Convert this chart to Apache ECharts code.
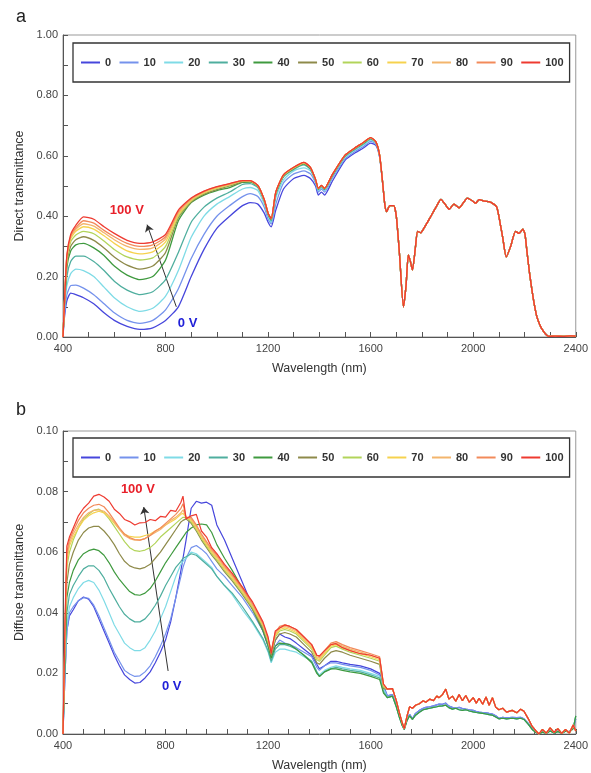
<!DOCTYPE html>
<html>
<head>
<meta charset="utf-8">
<script src="https://cdn.jsdelivr.net/npm/echarts@6/dist/echarts.min.js"></script>
<style>
html,body{margin:0;padding:0;background:#fff;}
#c{width:591px;height:773px;}
</style>
</head>
<body>
<div id="c"></div>
<script>
// ---------- Data ----------
const VOLTS = ['0','10','20','30','40','50','60','70','80','90','100'];

// Panel a: direct transmittance
const A_WL_HEAD = [400,405,415,430,450,480,520,560,600,650,700,750,800,850,900,950,1000,1050,1100,1130,1160,1185,1200,1212,1230,1260,1300,1340,1365,1385,1396,1408,1420,1450,1500,1540,1570,1600,1620,1635,1648];
const A_0   = [0,0.06,0.12,0.145,0.14,0.13,0.11,0.08,0.055,0.035,0.025,0.03,0.055,0.10,0.20,0.29,0.36,0.40,0.435,0.445,0.44,0.41,0.38,0.365,0.42,0.49,0.525,0.535,0.525,0.50,0.47,0.48,0.47,0.515,0.585,0.61,0.625,0.642,0.635,0.595,0.50];
const A_10  = [0,0.07,0.14,0.17,0.172,0.162,0.14,0.11,0.08,0.055,0.045,0.055,0.09,0.16,0.26,0.34,0.40,0.435,0.465,0.475,0.465,0.43,0.39,0.375,0.44,0.51,0.54,0.55,0.54,0.51,0.48,0.49,0.48,0.525,0.59,0.615,0.63,0.648,0.64,0.598,0.50];
const A_20  = [0,0.08,0.17,0.21,0.225,0.22,0.20,0.165,0.13,0.10,0.085,0.095,0.135,0.22,0.33,0.40,0.44,0.465,0.49,0.495,0.485,0.44,0.40,0.38,0.46,0.52,0.55,0.56,0.55,0.515,0.485,0.495,0.485,0.53,0.595,0.62,0.635,0.652,0.642,0.60,0.50];
const A_30  = [0,0.09,0.20,0.25,0.268,0.268,0.25,0.22,0.185,0.155,0.14,0.15,0.19,0.28,0.38,0.43,0.46,0.48,0.505,0.508,0.495,0.45,0.405,0.385,0.47,0.53,0.555,0.57,0.555,0.518,0.488,0.498,0.488,0.532,0.598,0.622,0.638,0.655,0.644,0.60,0.50];
const A_40  = [0,0.10,0.23,0.285,0.305,0.31,0.295,0.27,0.235,0.205,0.19,0.20,0.255,0.385,0.445,0.47,0.485,0.495,0.512,0.513,0.50,0.452,0.408,0.389,0.475,0.533,0.558,0.573,0.558,0.52,0.49,0.50,0.49,0.535,0.60,0.625,0.641,0.658,0.646,0.601,0.50];
const A_50  = [0,0.10,0.24,0.30,0.322,0.332,0.32,0.295,0.265,0.238,0.225,0.235,0.28,0.395,0.447,0.473,0.488,0.50,0.514,0.515,0.50,0.453,0.409,0.39,0.477,0.534,0.559,0.575,0.56,0.521,0.491,0.501,0.491,0.536,0.601,0.626,0.642,0.659,0.646,0.601,0.50];
const A_60  = [0,0.10,0.25,0.315,0.338,0.35,0.342,0.318,0.29,0.265,0.255,0.262,0.30,0.40,0.45,0.476,0.492,0.503,0.516,0.516,0.501,0.454,0.41,0.391,0.478,0.535,0.56,0.576,0.561,0.521,0.491,0.501,0.491,0.536,0.601,0.626,0.642,0.659,0.646,0.601,0.50];
const A_70  = [0,0.10,0.26,0.325,0.35,0.365,0.357,0.335,0.31,0.285,0.275,0.282,0.315,0.405,0.453,0.478,0.494,0.505,0.517,0.517,0.501,0.454,0.41,0.391,0.479,0.536,0.561,0.577,0.561,0.522,0.492,0.502,0.492,0.537,0.602,0.627,0.643,0.66,0.647,0.602,0.50];
const A_80  = [0,0.10,0.265,0.33,0.357,0.375,0.367,0.345,0.322,0.30,0.29,0.295,0.325,0.41,0.455,0.48,0.496,0.506,0.518,0.518,0.502,0.455,0.41,0.392,0.48,0.537,0.562,0.578,0.562,0.522,0.492,0.502,0.492,0.537,0.602,0.627,0.643,0.66,0.647,0.602,0.50];
const A_90  = [0,0.10,0.268,0.335,0.362,0.385,0.377,0.353,0.332,0.31,0.30,0.305,0.332,0.415,0.458,0.482,0.497,0.507,0.518,0.518,0.502,0.455,0.41,0.392,0.48,0.537,0.562,0.578,0.562,0.522,0.492,0.502,0.492,0.537,0.602,0.627,0.643,0.66,0.647,0.602,0.50];
const A_100 = [0,0.10,0.27,0.34,0.37,0.398,0.39,0.365,0.343,0.32,0.31,0.315,0.34,0.42,0.46,0.483,0.498,0.508,0.518,0.518,0.502,0.455,0.41,0.392,0.48,0.537,0.562,0.578,0.562,0.522,0.492,0.502,0.492,0.537,0.602,0.627,0.643,0.66,0.647,0.602,0.50];
// beyond 1650 nm all voltages coincide
const A_WL_TAIL = [1655,1662,1675,1690,1700,1712,1728,1738,1747,1755,1763,1775,1783,1795,1809,1835,1855,1874,1890,1906,1925,1945,1962,1977,1995,2009,2023,2045,2062,2080,2092,2100,2115,2129,2146,2165,2178,2194,2202,2210,2220,2230,2240,2249,2260,2269,2282,2295,2320,2350,2380,2400];
const A_TAIL = [0.44,0.415,0.435,0.435,0.40,0.28,0.10,0.17,0.272,0.25,0.222,0.30,0.35,0.345,0.362,0.40,0.43,0.456,0.44,0.423,0.44,0.428,0.445,0.46,0.452,0.443,0.455,0.45,0.448,0.44,0.43,0.40,0.33,0.265,0.30,0.35,0.343,0.357,0.34,0.28,0.21,0.15,0.10,0.065,0.04,0.025,0.01,0.002,0.003,0.002,0.004,0.003];

// Panel b: diffuse transmittance
const B_WL_HEAD = [400,408,415,425,440,460,480,500,520,540,560,580,600,620,640,660,680,700,720,740,760,780,800,820,840,860,868,880,900,920,940,960,980,1000,1030,1060,1100,1140,1180,1200,1212,1228,1245,1265,1285,1310,1340,1370,1390,1400,1420,1445,1465,1490,1520,1560,1600,1635,1650];
const B_0   = [0,0.02,0.034,0.039,0.041,0.044,0.0452,0.0445,0.042,0.038,0.034,0.030,0.026,0.0225,0.0195,0.018,0.0168,0.017,0.0185,0.0205,0.0235,0.027,0.031,0.037,0.045,0.054,0.058,0.064,0.0745,0.0768,0.0762,0.0765,0.0755,0.069,0.064,0.058,0.050,0.042,0.034,0.029,0.026,0.031,0.033,0.032,0.0315,0.030,0.028,0.026,0.023,0.0215,0.0225,0.024,0.024,0.0235,0.023,0.0225,0.0215,0.020,0.016];
const B_10  = [0,0.02,0.034,0.04,0.042,0.044,0.045,0.0448,0.0425,0.039,0.035,0.031,0.027,0.024,0.021,0.0198,0.019,0.0192,0.0205,0.0225,0.0255,0.029,0.033,0.038,0.045,0.052,0.055,0.058,0.0615,0.0622,0.061,0.0595,0.057,0.0545,0.052,0.049,0.045,0.040,0.034,0.029,0.025,0.029,0.031,0.030,0.0295,0.0285,0.027,0.0255,0.022,0.021,0.0225,0.0235,0.0235,0.023,0.0225,0.022,0.021,0.0195,0.0155];
const B_20  = [0,0.022,0.036,0.042,0.045,0.048,0.050,0.0507,0.050,0.0475,0.044,0.040,0.036,0.033,0.030,0.0285,0.0275,0.0275,0.0285,0.031,0.034,0.038,0.042,0.047,0.052,0.056,0.057,0.058,0.060,0.0595,0.058,0.0565,0.055,0.052,0.049,0.046,0.041,0.0365,0.031,0.027,0.0235,0.027,0.028,0.028,0.0275,0.027,0.0255,0.024,0.0205,0.0195,0.021,0.022,0.0225,0.022,0.0215,0.021,0.020,0.019,0.015];
const B_30  = [0,0.024,0.04,0.046,0.049,0.052,0.0545,0.0555,0.0555,0.054,0.0515,0.048,0.045,0.042,0.0395,0.038,0.037,0.037,0.038,0.040,0.0425,0.0455,0.049,0.052,0.055,0.057,0.058,0.0585,0.0595,0.059,0.0575,0.056,0.0545,0.052,0.049,0.0465,0.042,0.037,0.0315,0.0275,0.024,0.028,0.0295,0.0295,0.029,0.028,0.026,0.024,0.0205,0.019,0.0205,0.0215,0.022,0.0215,0.021,0.0205,0.0195,0.0185,0.014];
const B_40  = [0,0.026,0.045,0.05,0.054,0.0575,0.0595,0.0605,0.061,0.0605,0.059,0.0565,0.0535,0.051,0.049,0.047,0.046,0.0458,0.0465,0.048,0.0505,0.0535,0.0565,0.059,0.0615,0.064,0.065,0.0665,0.068,0.069,0.0693,0.069,0.0665,0.0625,0.058,0.054,0.048,0.041,0.034,0.029,0.025,0.029,0.030,0.0298,0.0295,0.028,0.026,0.0235,0.020,0.019,0.0205,0.0215,0.0215,0.021,0.0205,0.020,0.019,0.018,0.0135];
const B_50  = [0,0.03,0.05,0.056,0.06,0.064,0.0665,0.068,0.0685,0.0685,0.067,0.065,0.0625,0.0595,0.057,0.0555,0.0548,0.0545,0.055,0.056,0.058,0.060,0.0625,0.065,0.0675,0.070,0.0705,0.071,0.0695,0.067,0.064,0.0615,0.059,0.057,0.0535,0.0505,0.046,0.041,0.035,0.030,0.026,0.031,0.033,0.0335,0.033,0.032,0.0295,0.027,0.0235,0.023,0.025,0.027,0.0275,0.027,0.026,0.025,0.024,0.023,0.015];
const B_60  = [0,0.032,0.055,0.06,0.064,0.068,0.071,0.0725,0.0738,0.0742,0.073,0.071,0.0685,0.066,0.0635,0.0615,0.0605,0.0603,0.0607,0.0615,0.063,0.065,0.0665,0.068,0.0695,0.071,0.0715,0.0715,0.070,0.0675,0.0645,0.062,0.0595,0.0575,0.054,0.051,0.0465,0.0415,0.0355,0.0305,0.0265,0.032,0.034,0.0345,0.034,0.033,0.0305,0.028,0.0245,0.024,0.026,0.0285,0.029,0.028,0.027,0.026,0.025,0.024,0.0155];
const B_70  = [0,0.034,0.057,0.062,0.065,0.068,0.0705,0.072,0.073,0.0735,0.073,0.0715,0.0695,0.0675,0.066,0.0652,0.065,0.065,0.0655,0.066,0.067,0.068,0.069,0.070,0.071,0.0725,0.0728,0.0715,0.0705,0.068,0.065,0.0625,0.060,0.058,0.0545,0.0515,0.047,0.042,0.036,0.031,0.027,0.0325,0.0345,0.035,0.0345,0.0335,0.031,0.0285,0.025,0.0245,0.0265,0.029,0.0295,0.0285,0.0275,0.0265,0.0255,0.0245,0.016];
const B_80  = [0,0.035,0.058,0.063,0.066,0.069,0.0715,0.073,0.0738,0.074,0.0735,0.072,0.070,0.0675,0.0655,0.0645,0.064,0.064,0.0645,0.0655,0.0665,0.0675,0.069,0.0705,0.0715,0.073,0.074,0.0715,0.071,0.0685,0.0655,0.063,0.0605,0.0585,0.055,0.052,0.0475,0.0425,0.0362,0.0312,0.0272,0.033,0.035,0.0355,0.035,0.034,0.0315,0.029,0.0255,0.025,0.027,0.0295,0.030,0.029,0.028,0.027,0.026,0.025,0.0162];
const B_90  = [0,0.036,0.06,0.064,0.067,0.0705,0.073,0.0745,0.0755,0.0758,0.075,0.073,0.0705,0.068,0.066,0.0648,0.0642,0.064,0.0645,0.0655,0.067,0.068,0.0695,0.071,0.0725,0.0745,0.076,0.0715,0.0715,0.069,0.066,0.0635,0.061,0.059,0.0555,0.0525,0.048,0.043,0.0365,0.0315,0.0275,0.0335,0.0355,0.036,0.0355,0.0345,0.032,0.0295,0.026,0.0255,0.0275,0.030,0.0305,0.0295,0.0285,0.0275,0.0265,0.0255,0.0165];
const B_100 = [0,0.038,0.062,0.065,0.068,0.072,0.0745,0.0762,0.0785,0.0791,0.0782,0.0768,0.0742,0.0728,0.0708,0.0701,0.0690,0.0697,0.0698,0.0708,0.0704,0.0718,0.0716,0.0738,0.0735,0.0765,0.0785,0.071,0.072,0.0725,0.067,0.065,0.0615,0.0595,0.056,0.053,0.0485,0.0435,0.037,0.032,0.0265,0.034,0.035,0.036,0.0355,0.0345,0.032,0.0295,0.026,0.0258,0.0275,0.0295,0.0298,0.0285,0.0275,0.0265,0.026,0.025,0.0165];
// beyond 1650 nm: three groups of nearly coinciding curves
const B_WL_TAIL = [1665,1685,1700,1712,1722,1731,1742,1752,1763,1775,1790,1805,1815,1830,1845,1858,1867,1880,1893,1905,1919,1932,1945,1958,1971,1985,2000,2012,2023,2037,2050,2062,2075,2088,2100,2115,2130,2152,2170,2185,2198,2215,2230,2245,2256,2270,2285,2300,2315,2330,2345,2360,2375,2390,2400];
const B_TAIL_HI  = [0.0148,0.015,0.011,0.007,0.004,0.0018,0.006,0.009,0.0085,0.0095,0.010,0.011,0.0105,0.0115,0.011,0.0125,0.012,0.013,0.0148,0.0115,0.0125,0.0108,0.013,0.011,0.0127,0.0105,0.012,0.0102,0.0118,0.0098,0.0122,0.0095,0.012,0.0088,0.008,0.0085,0.0072,0.0078,0.007,0.0082,0.0075,0.005,0.0025,0.001,0.0,0.0015,0.0003,0.002,0.0005,0.0018,0.0002,0.0015,0.0003,0.003,0.001];
const B_TAIL_MID = [0.0126,0.013,0.0095,0.006,0.0035,0.0018,0.005,0.0065,0.005,0.0068,0.0078,0.0085,0.0088,0.009,0.0093,0.0096,0.0099,0.0098,0.0102,0.0092,0.0088,0.0085,0.0088,0.0084,0.0082,0.008,0.0078,0.0074,0.0072,0.0071,0.007,0.0068,0.0066,0.006,0.0052,0.0055,0.0053,0.0055,0.0054,0.0055,0.005,0.0035,0.0018,0.0006,0.0,0.0008,0.0003,0.0012,0.0004,0.001,0.0003,0.001,0.0008,0.002,0.005];
const B_TAIL_LO  = [0.012,0.0125,0.009,0.0055,0.003,0.0015,0.0045,0.006,0.0048,0.0062,0.0072,0.008,0.0082,0.0085,0.0088,0.009,0.0092,0.0093,0.0095,0.0087,0.0082,0.0085,0.008,0.0078,0.008,0.0076,0.0073,0.0071,0.0070,0.0068,0.0066,0.0064,0.0062,0.0056,0.005,0.0052,0.005,0.0052,0.005,0.0052,0.0048,0.0032,0.0015,0.0005,0.0,0.0006,0.0002,0.001,0.0003,0.0008,0.0002,0.0009,0.0006,0.0018,0.006];

const A_SERIES = [A_0,A_10,A_20,A_30,A_40,A_50,A_60,A_70,A_80,A_90,A_100];
const B_SERIES = [B_0,B_10,B_20,B_30,B_40,B_50,B_60,B_70,B_80,B_90,B_100];
const B_TAILS  = [B_TAIL_MID,B_TAIL_MID,B_TAIL_LO,B_TAIL_LO,B_TAIL_LO,B_TAIL_HI,B_TAIL_HI,B_TAIL_HI,B_TAIL_HI,B_TAIL_HI,B_TAIL_HI];

// ---------- Styles ----------
const COLORS = ['#4646dc','#7592ec','#7fdbe6','#4fae9e','#3f9a3f','#8e8a4a','#b2d45a','#f6d24e','#f3b56c','#f28a5a','#ee3a30'];
const FONT = 'Liberation Sans, Arial, sans-serif';

function pairs(wl, vals){ return wl.map((w,i)=>[w, vals[i]]); }

const chart = echarts.init(document.getElementById('c'), null, {renderer:'canvas'});

function xAxisCfg(gi, minorSplit){
  return {
    type:'value', gridIndex:gi, min:400, max:2400, interval:400,
    name:'Wavelength (nm)', nameLocation:'middle', nameGap:25,
    nameTextStyle:{fontFamily:FONT, fontSize:12.5, color:'#333'},
    axisLine:{show:true, onZero:false, lineStyle:{color:'#555', width:1}},
    axisTick:{show:true, inside:true, length:5, lineStyle:{color:'#555'}},
    minorTick:{show:true, splitNumber:minorSplit, length:5, lineStyle:{color:'#555'}},
    splitLine:{show:false},
    axisLabel:{fontFamily:FONT, fontSize:11, color:'#444', margin:6, formatter:(v)=>String(v)}
  };
}
function yAxisCfg(gi, max, interval, name){
  return {
    type:'value', gridIndex:gi, min:0, max:max, interval:interval,
    name:name, nameLocation:'middle', nameGap:34, nameRotate:90,
    nameTextStyle:{fontFamily:FONT, fontSize:12.5, color:'#333'},
    axisLine:{show:true, onZero:false, lineStyle:{color:'#555', width:1}},
    axisTick:{show:true, inside:true, length:5, lineStyle:{color:'#555'}},
    minorTick:{show:true, splitNumber:2, length:5, lineStyle:{color:'#555'}},
    splitLine:{show:false},
    axisLabel:{fontFamily:FONT, fontSize:11, color:'#444', margin:5, formatter:(v)=>v.toFixed(2)}
  };
}
function legendCfg(top){
  return {
    data:VOLTS, left:73, top:top, orient:'horizontal',
    padding:[14,6,14,8], itemGap:8.4, itemWidth:19, itemHeight:2, icon:'rect',
    borderColor:'#333', borderWidth:1.3, borderRadius:0,
    textStyle:{fontFamily:FONT, fontSize:11, fontWeight:'bold', color:'#333'}
  };
}

const series = [];
VOLTS.forEach((v,i)=>{
  const s = {
    name:v, type:'line', xAxisIndex:0, yAxisIndex:0,
    data: pairs(A_WL_HEAD, A_SERIES[i]).concat(pairs(A_WL_TAIL, A_TAIL)),
    showSymbol:false, smooth:0.2, lineStyle:{color:COLORS[i], width:1.3},
    itemStyle:{color:COLORS[i]}, z:2+i
  };
  if(i===10){
    s.markLine = {silent:true, symbol:['none','arrow'], symbolSize:7,
      lineStyle:{color:'#333', width:1, type:'solid'}, label:{show:false},
      data:[[{coord:[842,0.10]},{coord:[728,0.372]}]]};
    s.markPoint = {silent:true, symbol:'rect', symbolSize:1, itemStyle:{color:'rgba(0,0,0,0)'},
      data:[
        {coord:[649,0.418], label:{show:true, position:'inside', formatter:'100 V', color:'#e8202a', fontWeight:'bold', fontSize:13, fontFamily:FONT}},
        {coord:[886,0.045], label:{show:true, position:'inside', formatter:'0 V', color:'#2020d8', fontWeight:'bold', fontSize:13, fontFamily:FONT}}
      ]};
  }
  series.push(s);
});
VOLTS.forEach((v,i)=>{
  const s = {
    name:v, type:'line', xAxisIndex:1, yAxisIndex:1,
    data: pairs(B_WL_HEAD, B_SERIES[i]).concat(pairs(B_WL_TAIL, B_TAILS[i])),
    showSymbol:false, smooth:false, lineStyle:{color:COLORS[i], width:1.2},
    itemStyle:{color:COLORS[i]}, z:2+i
  };
  if(i===10){
    s.markLine = {silent:true, symbol:['none','arrow'], symbolSize:7,
      lineStyle:{color:'#333', width:1, type:'solid'}, label:{show:false},
      data:[[{coord:[810,0.0208]},{coord:[715,0.0749]}]]};
    s.markPoint = {silent:true, symbol:'rect', symbolSize:1, itemStyle:{color:'rgba(0,0,0,0)'},
      data:[
        {coord:[692,0.0806], label:{show:true, position:'inside', formatter:'100 V', color:'#e8202a', fontWeight:'bold', fontSize:13, fontFamily:FONT}},
        {coord:[824,0.0158], label:{show:true, position:'inside', formatter:'0 V', color:'#2020d8', fontWeight:'bold', fontSize:13, fontFamily:FONT}}
      ]};
  }
  series.push(s);
});

chart.setOption({
  animation:false,
  backgroundColor:'#ffffff',
  title:[
    {text:'a', left:11, top:3, textStyle:{fontFamily:FONT, fontSize:18, fontWeight:'normal', color:'#222'}},
    {text:'b', left:11, top:396, textStyle:{fontFamily:FONT, fontSize:18, fontWeight:'normal', color:'#222'}}
  ],
  legend:[legendCfg(43), legendCfg(438)],
  grid:[
    {left:63, top:35, width:514, height:302, show:true, borderColor:'#999', borderWidth:1, backgroundColor:'transparent'},
    {left:63, top:431, width:514, height:304, show:true, borderColor:'#999', borderWidth:1, backgroundColor:'transparent'}
  ],
  xAxis:[xAxisCfg(0,4), xAxisCfg(1,5)],
  yAxis:[yAxisCfg(0,1.0,0.2,'Direct transmittance'), yAxisCfg(1,0.1,0.02,'Diffuse transmittance')],
  series:series
});
</script>
</body>
</html>
